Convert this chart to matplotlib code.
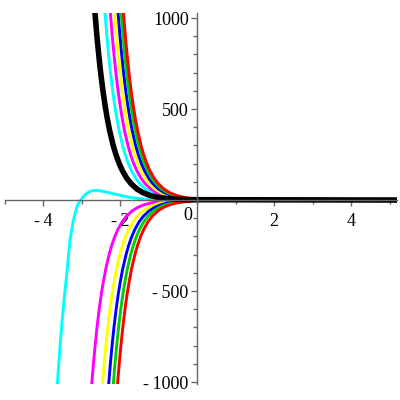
import matplotlib
matplotlib.use("Agg")
from matplotlib import pyplot as plt

# y levels (upper and lower families)
y_up = [1040, 900, 800, 700, 600, 520, 450, 380, 300, 250, 200, 160, 120, 90, 60, 40, 25, 15, 8, 4, 2, 0]
y_low = [-1015, -900, -800, -700, -600, -520, -450, -380, -300, -250, -200, -160, -120, -90, -60, -40, -25, -15, -8, -4, -2, 0]

# x positions where each curve meets the y levels above
black_x = [-2.655, -2.600, -2.554, -2.503, -2.443, -2.388, -2.333, -2.268, -2.177, -2.107, -2.021,
           -1.935, -1.825, -1.714, -1.558, -1.402, -1.221, -1.025, -0.783, -0.517, -0.250, 5.2]
cyan_up_x = [-2.395, -2.341, -2.297, -2.248, -2.191, -2.138, -2.084, -2.022, -1.934, -1.867, -1.784,
             -1.701, -1.595, -1.488, -1.338, -1.188, -1.014, -0.824, -0.592, -0.335, -0.078, 5.2]
magenta_up_x = [-2.255, -2.201, -2.157, -2.108, -2.051, -1.998, -1.944, -1.882, -1.794, -1.727, -1.644,
                -1.561, -1.455, -1.348, -1.198, -1.048, -0.874, -0.684, -0.452, -0.195, 0.062, 5.2]
yellow_up_x = [-2.145, -2.091, -2.047, -1.998, -1.941, -1.888, -1.834, -1.772, -1.684, -1.617, -1.534,
               -1.451, -1.345, -1.238, -1.088, -0.938, -0.764, -0.574, -0.342, -0.085, 0.172, 5.2]
blue_up_x = [-2.055, -2.001, -1.957, -1.908, -1.851, -1.798, -1.744, -1.682, -1.594, -1.527, -1.444,
             -1.361, -1.255, -1.148, -0.998, -0.848, -0.674, -0.484, -0.252, 0.005, 0.262, 5.2]
green_up_x = [-1.975, -1.921, -1.877, -1.828, -1.771, -1.718, -1.664, -1.602, -1.514, -1.447, -1.364,
              -1.281, -1.175, -1.068, -0.918, -0.768, -0.594, -0.404, -0.172, 0.085, 0.342, 5.2]
red_up_x = [-1.915, -1.861, -1.817, -1.768, -1.711, -1.658, -1.604, -1.542, -1.454, -1.387, -1.304,
            -1.221, -1.115, -1.008, -0.858, -0.708, -0.534, -0.344, -0.112, 0.145, 0.402, 5.2]

magenta_low_x = [-2.736, -2.691, -2.647, -2.598, -2.541, -2.488, -2.434, -2.372, -2.284, -2.217, -2.134,
                 -2.051, -1.945, -1.838, -1.688, -1.538, -1.364, -1.174, -0.942, -0.685, -0.428, 5.2]
yellow_low_x = [-2.456, -2.411, -2.367, -2.318, -2.261, -2.208, -2.154, -2.092, -2.004, -1.937, -1.854,
                -1.771, -1.665, -1.558, -1.408, -1.258, -1.084, -0.894, -0.662, -0.405, -0.148, 5.2]
blue_low_x = [-2.296, -2.251, -2.207, -2.158, -2.101, -2.048, -1.994, -1.932, -1.844, -1.777, -1.694,
              -1.611, -1.505, -1.398, -1.248, -1.098, -0.924, -0.734, -0.502, -0.245, 0.012, 5.2]
green_low_x = [-2.176, -2.131, -2.087, -2.038, -1.981, -1.928, -1.874, -1.812, -1.724, -1.657, -1.574,
               -1.491, -1.385, -1.278, -1.128, -0.978, -0.804, -0.614, -0.382, -0.125, 0.132, 5.2]
red_low_x = [-2.066, -2.021, -1.977, -1.928, -1.871, -1.818, -1.764, -1.702, -1.614, -1.547, -1.464,
             -1.381, -1.275, -1.168, -1.018, -0.868, -0.694, -0.504, -0.272, -0.015, 0.242, 5.2]

# cyan curve with the hump
cyan_low_x = [-3.63, -3.59, -3.55, -3.51, -3.47, -3.42, -3.38, -3.34, -3.30, -3.25, -3.21, -3.16,
              -3.12, -3.07, -3.02, -2.95, -2.87, -2.80, -2.72, -2.65, -2.55, -2.45, -2.35, -2.2,
              -2.0, -1.85, -1.7, -1.5, -1.3, -1.0, -0.6, 5.2]
cyan_low_y = [-1015, -900, -780, -680, -586, -480, -400, -310, -220, -160, -110, -70,
              -37, -15, 0, 20, 36, 45, 51, 53, 52, 48, 44, 36,
              26, 19, 13, 8, 4, 2, 0.5, 0]

xticks = [-4, -2, 2, 4]
yticks = [-1000, -500, 500, 1000]

fig = plt.figure(figsize=(4, 4), dpi=100)
ax = fig.add_axes([0.01125, 0.0395, 0.982, 0.929])

lw = 2.1
ax.plot(cyan_up_x, y_up, color="#00FFFF", lw=lw)
ax.plot(magenta_up_x, y_up, color="#FF00FF", lw=lw)
ax.plot(yellow_up_x, y_up, color="#FFFF00", lw=lw)
ax.plot(blue_up_x, y_up, color="#0000FF", lw=lw)
ax.plot(green_up_x, y_up, color="#00D000", lw=lw)
ax.plot(red_up_x, y_up, color="#FF0000", lw=lw)

ax.plot(magenta_low_x, y_low, color="#FF00FF", lw=lw)
ax.plot(yellow_low_x, y_low, color="#FFFF00", lw=lw)
ax.plot(blue_low_x, y_low, color="#0000FF", lw=lw)
ax.plot(green_low_x, y_low, color="#00D000", lw=lw)
ax.plot(red_low_x, y_low, color="#FF0000", lw=lw)
ax.plot(cyan_low_x, cyan_low_y, color="#00FFFF", lw=lw)

ax.plot(black_x, y_up, color="black", lw=4)

ax.set_xlim(-5, 5.2)
ax.set_ylim(-1012, 1030)

for s in ["top", "right"]:
    ax.spines[s].set_visible(False)
for s in ["left", "bottom"]:
    ax.spines[s].set_position(("data", 0))
    ax.spines[s].set_color("#666666")
    ax.spines[s].set_linewidth(1)
ax.patch.set_visible(False)

font = dict(family=["Liberation Serif", "DejaVu Serif"], size=13)


def label(t):
    return "-\u2009" + str(abs(t)) if t < 0 else str(t)


ax.set_xticks(xticks)
ax.set_xticklabels([label(t) for t in xticks], **font)
ax.set_xticks(range(-5, 6), minor=True)
ax.set_yticks(yticks)
ax.set_yticklabels([label(t) for t in yticks], **font)
ax.set_yticks(range(-1000, 1001, 100), minor=True)
ax.tick_params(axis="both", which="major", length=4, width=1, color="#666666", pad=2)
ax.tick_params(axis="both", which="minor", length=3, width=1, color="#666666")
ax.tick_params(axis="x", pad=5)
ax.text(-0.12, -40, "0", ha="right", va="top", **font)

fig.savefig("out.png", dpi=100)
